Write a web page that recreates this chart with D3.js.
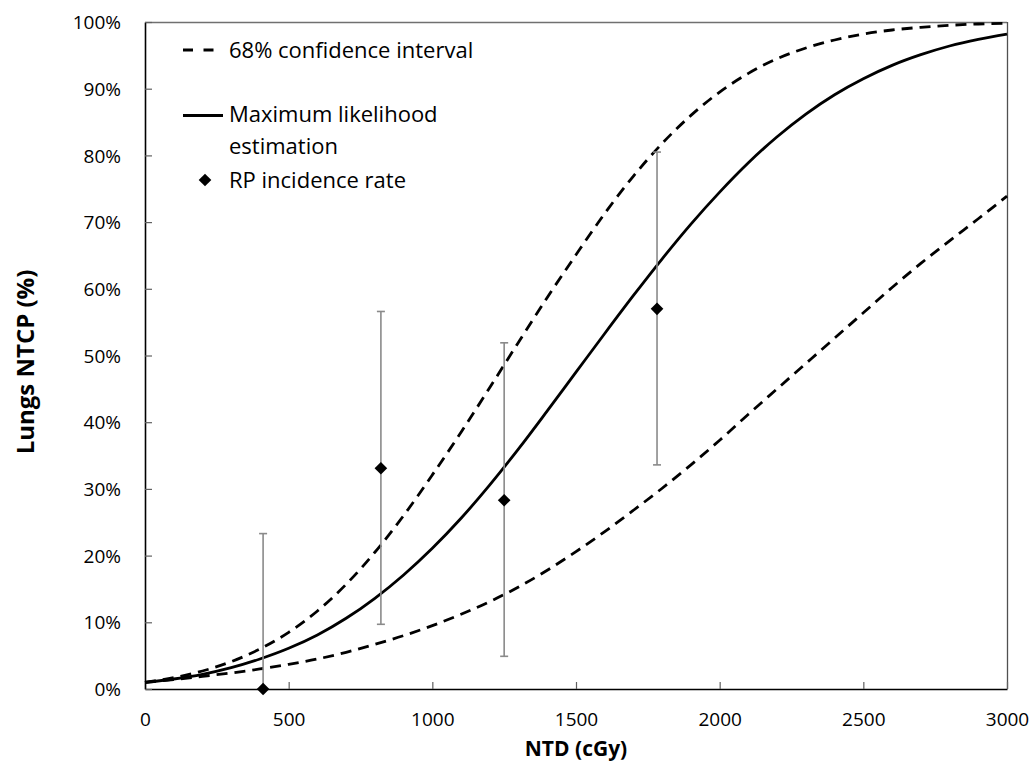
<!DOCTYPE html>
<html>
<head>
<meta charset="utf-8">
<script src="https://cdn.jsdelivr.net/npm/d3@7"></script>
<style>
  html, body { margin: 0; padding: 0; background: #fff; }
  svg { display: block; }
  text { font-family: "Open Sans", "Noto Sans", sans-serif; fill: #000; }
</style>
</head>
<body>
<svg id="chart" width="1033" height="767"></svg>
<script>
// ---- data ----
const doses = [0,100,200,300,400,500,600,700,800,900,1000,1100,1200,1300,1400,1500,
               1600,1700,1800,1900,2000,2100,2200,2300,2400,2500,2600,2700,2800,2900,3000];
const mle    = [1.0,1.5,2.2,3.2,4.5,6.1,8.1,10.6,13.6,17.1,21.1,25.6,30.6,36.0,41.7,47.5,
                53.3,59.0,64.5,69.7,74.5,78.9,82.8,86.2,89.1,91.5,93.5,95.1,96.4,97.4,98.2];
const ciHigh = [1.0,1.7,2.7,4.1,6.0,8.5,11.7,15.7,20.5,26.0,32.1,38.5,45.2,52.0,58.7,65.1,
                71.3,76.9,81.8,86.0,89.5,92.3,94.5,96.1,97.3,98.2,98.8,99.2,99.5,99.7,99.8];
const ciLow  = [1.0,1.4,1.9,2.4,3.0,3.7,4.5,5.5,6.7,8.0,9.5,11.2,13.1,15.3,17.8,20.6,
                23.6,26.8,30.1,33.6,37.3,41.2,45.0,48.8,52.6,56.4,60.2,63.8,67.2,70.5,73.9];

const obsDose  = [411, 821, 1250, 1782];
const obsRate  = [0.0, 33.1, 28.3, 57.0];
const obsUpper = [23.3, 56.6, 51.9, 80.5];
const obsLower = [0.0, 9.7, 4.9, 33.6];

const xTicks = [0,500,1000,1500,2000,2500,3000];
const yTicks = [0,10,20,30,40,50,60,70,80,90,100];

const legendLabels = ["68% confidence interval", ["Maximum likelihood", "estimation"], "RP incidence rate"];
const xTitle = "NTD (cGy)";
const yTitle = "Lungs NTCP (%)";

// ---- layout ----
const L = 145, R = 1007, T = 22, B = 689;
const svg = d3.select("#chart");
const x = d3.scaleLinear().domain([0, 3000]).range([L, R]);
const y = d3.scaleLinear().domain([0, 100]).range([B, T]);

// frame: top/right gray
svg.append("line").attr("x1", L).attr("x2", R).attr("y1", T + 0.5).attr("y2", T + 0.5)
  .attr("stroke", "#707070").attr("stroke-width", 1.3);
svg.append("line").attr("x1", R + 0.5).attr("x2", R + 0.5).attr("y1", T).attr("y2", B)
  .attr("stroke", "#505050").attr("stroke-width", 1.3);

// axes
const xAxis = d3.axisBottom(x).tickValues(xTicks).tickSizeInner(-7).tickSizeOuter(0).tickPadding(0).tickFormat(d3.format("d"));
const gx = svg.append("g").attr("transform", `translate(0,${B})`).call(xAxis);
gx.select(".domain").attr("stroke", "#000").attr("stroke-width", 1.6);
gx.selectAll(".tick line").attr("stroke", "#606060").attr("stroke-width", 1.2);
gx.selectAll(".tick text").attr("font-size", 19).attr("dy", null).attr("y", 37).attr("fill", "#000");

const yAxis = d3.axisLeft(y).tickValues(yTicks).tickSizeInner(-7).tickSizeOuter(0).tickPadding(0).tickFormat(d => d + "%");
const gy = svg.append("g").attr("transform", `translate(${L},0)`).call(yAxis);
gy.select(".domain").attr("stroke", "#000").attr("stroke-width", 1.6);
gy.selectAll(".tick line").attr("stroke", "#606060").attr("stroke-width", 1.2);
gy.selectAll(".tick text").attr("font-size", 19).attr("x", -24).attr("dy", "0.35em").attr("fill", "#000");

// axis titles
svg.append("text").attr("x", (L + R) / 2).attr("y", 756).attr("text-anchor", "middle")
  .attr("font-size", 21).attr("font-weight", "bold").text(xTitle);
svg.append("text").attr("transform", `translate(34,${362}) rotate(-90)`).attr("text-anchor", "middle")
  .attr("font-size", 24).attr("font-weight", "bold").text(yTitle);

// curves
const line = d3.line().x(d => x(d[0])).y(d => y(d[1])).curve(d3.curveMonotoneX);
const lineSeries = (vals) => doses.map((d, i) => [d, vals[i]]);

svg.append("path").datum(lineSeries(ciHigh)).attr("d", line)
  .attr("fill", "none").attr("stroke", "#000").attr("stroke-width", 2.8).attr("stroke-dasharray", "11,7");
svg.append("path").datum(lineSeries(ciLow)).attr("d", line)
  .attr("fill", "none").attr("stroke", "#000").attr("stroke-width", 2.8).attr("stroke-dasharray", "11,7");
svg.append("path").datum(lineSeries(mle)).attr("d", line)
  .attr("fill", "none").attr("stroke", "#000").attr("stroke-width", 2.8);

// error bars
const obs = obsDose.map((d, i) => ({d, r: obsRate[i], hi: obsUpper[i], lo: obsLower[i]}));
const eb = svg.append("g").attr("stroke", "#8a8a8a").attr("stroke-width", 1.6);
eb.selectAll("line.v").data(obs).enter().append("line")
  .attr("x1", o => x(o.d)).attr("x2", o => x(o.d)).attr("y1", o => y(o.hi)).attr("y2", o => y(o.lo));
eb.selectAll("line.hi").data(obs).enter().append("line")
  .attr("x1", o => x(o.d) - 4).attr("x2", o => x(o.d) + 4).attr("y1", o => y(o.hi)).attr("y2", o => y(o.hi));
eb.selectAll("line.lo").data(obs.filter(o => o.lo > 0)).enter().append("line")
  .attr("x1", o => x(o.d) - 4).attr("x2", o => x(o.d) + 4).attr("y1", o => y(o.lo)).attr("y2", o => y(o.lo));

// diamonds
const diamond = d3.symbol().type(d3.symbolSquare).size(80);
svg.append("g").selectAll("path").data(obs).enter().append("path")
  .attr("d", diamond).attr("fill", "#000")
  .attr("transform", o => `translate(${x(o.d)},${y(o.r)}) rotate(45)`);

// legend
const lg = svg.append("g");
lg.append("line").attr("x1", 183).attr("x2", 214).attr("y1", 50).attr("y2", 50)
  .attr("stroke", "#000").attr("stroke-width", 2.8).attr("stroke-dasharray", "10,10.5");
lg.append("text").attr("x", 229).attr("y", 50).attr("dy", "0.35em").attr("font-size", 22).text(legendLabels[0]);
lg.append("line").attr("x1", 183).attr("x2", 223).attr("y1", 115.5).attr("y2", 115.5)
  .attr("stroke", "#000").attr("stroke-width", 2.8);
lg.append("text").attr("x", 229).attr("y", 114).attr("dy", "0.35em").attr("font-size", 22).text(legendLabels[1][0]);
lg.append("text").attr("x", 229).attr("y", 146).attr("dy", "0.35em").attr("font-size", 22).text(legendLabels[1][1]);
lg.append("path").attr("d", diamond).attr("fill", "#000").attr("transform", "translate(205,180) rotate(45)");
lg.append("text").attr("x", 229).attr("y", 180).attr("dy", "0.35em").attr("font-size", 22).text(legendLabels[2]);
</script>
</body>
</html>
